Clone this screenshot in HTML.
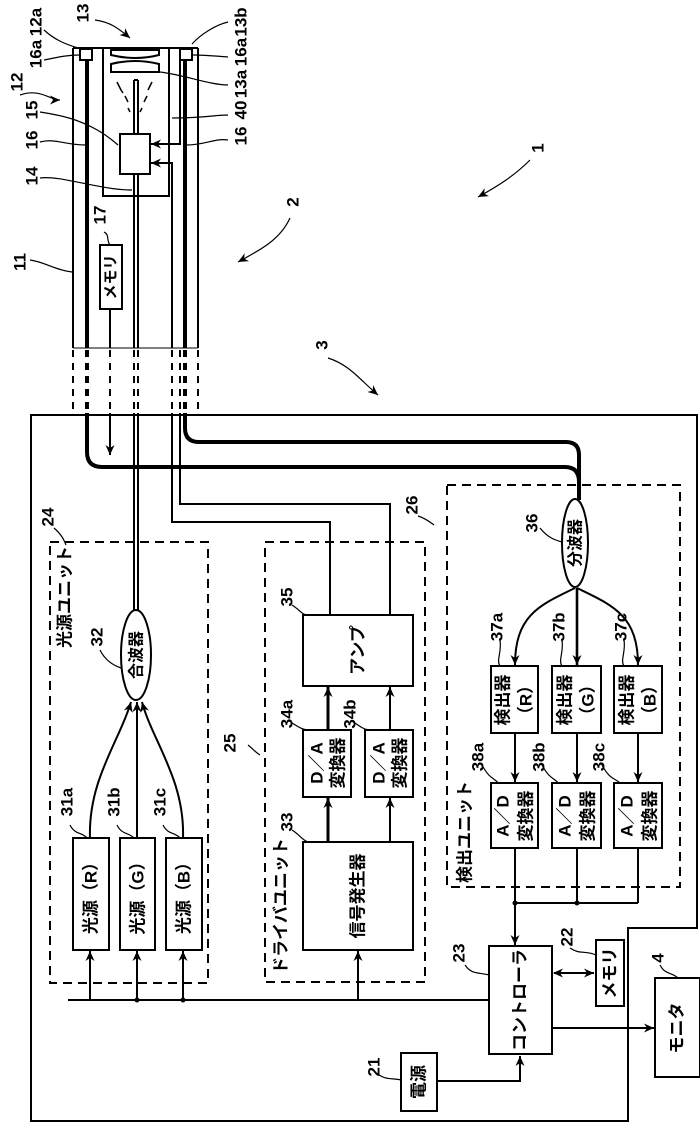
<!DOCTYPE html>
<html><head><meta charset="utf-8"><style>
html,body{margin:0;padding:0;background:#fff;}
svg{display:block;}
text{font-family:"Liberation Sans","Noto Sans CJK JP",sans-serif;fill:#000;}
</style></head><body>
<svg width="700" height="1134" viewBox="0 0 700 1134" xmlns="http://www.w3.org/2000/svg">
<defs>
<marker id="ar" markerWidth="11" markerHeight="11" refX="10" refY="5.5" orient="auto" markerUnits="userSpaceOnUse">
<path d="M0,1 L10,5.5 L0,10 L3,5.5 Z" fill="#000"/></marker>
<marker id="arS" markerWidth="11" markerHeight="11" refX="1" refY="5.5" orient="auto" markerUnits="userSpaceOnUse">
<path d="M10,1 L0,5.5 L10,10 L7,5.5 Z" fill="#000"/></marker>
</defs>
<g fill="none" stroke="#000" stroke-width="2">
<!-- probe -->
<line x1="73" y1="48" x2="73" y2="348"/>
<line x1="198" y1="48" x2="198" y2="348"/>
<line x1="73" y1="48" x2="198" y2="48"/>
<line x1="73" y1="348" x2="198" y2="348" stroke-width="1"/>
<rect x="80" y="49" width="12" height="11"/>
<rect x="180" y="49" width="12" height="11"/>
<line x1="87" y1="60" x2="87" y2="348" stroke-width="4"/>
<line x1="185" y1="60" x2="185" y2="348" stroke-width="4"/>
<rect x="103" y="48" width="66" height="148"/>
<path d="M111,50 h48 v5 q-24,6 -48,0 z"/>
<path d="M111,64 q24,-6 48,0 v8 h-48 z"/>
<line x1="134" y1="80" x2="134" y2="134"/><line x1="138" y1="80" x2="138" y2="134"/>
<line x1="134" y1="80" x2="138" y2="80"/>
<line x1="134" y1="174" x2="134" y2="348"/><line x1="138" y1="174" x2="138" y2="348"/>
<path d="M117,82 l4,8 M121,90 l2,3 M152,82 l-4,8 M125,96 l3,6 M147,96 l-3,6 M128,108 l2,4 M142,108 l-2,4" stroke-width="1.5"/>
<rect x="120" y="134" width="30" height="40" fill="#fff"/>
<path d="M180,60 V144 H151" marker-end="url(#ar)"/>
<path d="M172,348 V163 H151" marker-end="url(#ar)"/>
<rect x="100" y="245" width="22" height="64"/>
<line x1="110" y1="309" x2="110" y2="348"/>
<!-- dashed extension -->
<g stroke-dasharray="7,6">
<line x1="73" y1="350" x2="73" y2="413"/><line x1="198" y1="350" x2="198" y2="413"/>
<line x1="87" y1="350" x2="87" y2="413" stroke-width="4"/><line x1="185" y1="350" x2="185" y2="413" stroke-width="4"/>
<line x1="110" y1="350" x2="110" y2="413"/>
<line x1="134" y1="350" x2="134" y2="413"/><line x1="138" y1="350" x2="138" y2="413"/>
<line x1="172" y1="350" x2="172" y2="413"/><line x1="180" y1="350" x2="180" y2="413"/>
</g>
<!-- main housing -->
<path d="M31,415 H697 V928 H628 V1121 H31 Z"/>
<!-- thick fibers -->
<path d="M87,413 V452 Q87,467 102,467 H565 Q579,467 579,482 V500" stroke-width="4"/>
<path d="M185,413 V428 Q185,442 199,442 H566 Q579,442 579,455 V500" stroke-width="4"/>
<line x1="110" y1="413" x2="110" y2="455" marker-end="url(#ar)"/>
<line x1="134" y1="413" x2="134" y2="640"/><line x1="138" y1="413" x2="138" y2="640"/>
<path d="M180,413 V504 H390 V615"/>
<path d="M172,413 V522 H330 V615"/>
<!-- light source unit -->
<rect x="50" y="542" width="158" height="441" stroke-dasharray="9,6"/>
<ellipse cx="136" cy="655" rx="15" ry="45" fill="#fff"/>
<rect x="73" y="838" width="36" height="112"/>
<rect x="120" y="838" width="35" height="112"/>
<rect x="166" y="838" width="36" height="112"/>
<path d="M90,838 C88,780 120,740 131,702" marker-end="url(#ar)"/>
<line x1="137" y1="838" x2="137" y2="702" marker-end="url(#ar)"/>
<path d="M183,838 C185,780 152,740 142,702" marker-end="url(#ar)"/>
<!-- drive unit -->
<rect x="265" y="542" width="160" height="440" stroke-dasharray="9,6"/>
<rect x="303" y="615" width="110" height="71"/>
<rect x="303" y="730" width="48" height="67"/>
<rect x="365" y="730" width="48" height="67"/>
<rect x="303" y="842" width="110" height="108"/>
<line x1="328" y1="842" x2="328" y2="798" stroke-width="3" marker-end="url(#ar)"/>
<line x1="390" y1="842" x2="390" y2="798" marker-end="url(#ar)"/>
<line x1="328" y1="730" x2="328" y2="687" stroke-width="3" marker-end="url(#ar)"/>
<line x1="390" y1="730" x2="390" y2="687" marker-end="url(#ar)"/>
<!-- detection unit -->
<rect x="447" y="485" width="233" height="402" stroke-dasharray="9,6"/>
<ellipse cx="575" cy="543" rx="13" ry="44" fill="#fff"/>
<rect x="491" y="666" width="47" height="67"/>
<rect x="552" y="666" width="49" height="67"/>
<rect x="614" y="666" width="48" height="67"/>
<rect x="491" y="783" width="47" height="65"/>
<rect x="552" y="783" width="49" height="65"/>
<rect x="614" y="783" width="48" height="65"/>
<path d="M575,588 C540,605 515,615 515,665" marker-end="url(#ar)"/>
<line x1="577" y1="588" x2="577" y2="665" stroke-width="2.6" marker-end="url(#ar)"/>
<path d="M577,588 C612,605 638,615 638,665" marker-end="url(#ar)"/>
<line x1="515" y1="733" x2="515" y2="782" marker-end="url(#ar)"/>
<line x1="577" y1="733" x2="577" y2="782" marker-end="url(#ar)"/>
<line x1="638" y1="733" x2="638" y2="782" marker-end="url(#ar)"/>
<line x1="515" y1="848" x2="515" y2="945" marker-end="url(#ar)"/>
<line x1="577" y1="848" x2="577" y2="903"/>
<line x1="638" y1="848" x2="638" y2="903"/>
<line x1="515" y1="903" x2="638" y2="903"/>
<!-- controller area -->
<rect x="489" y="946" width="63" height="108"/>
<rect x="596" y="940" width="28" height="66"/>
<rect x="655" y="978" width="45" height="99"/>
<rect x="401" y="1053" width="36" height="58"/>
<line x1="554" y1="973" x2="594" y2="973" marker-start="url(#arS)" marker-end="url(#ar)"/>
<line x1="552" y1="1028" x2="654" y2="1028" marker-end="url(#ar)"/>
<path d="M437,1081 H520 V1056" marker-end="url(#ar)"/>
<line x1="68" y1="1000" x2="489" y2="1000"/>
<line x1="90" y1="1000" x2="90" y2="951" marker-end="url(#ar)"/>
<line x1="137" y1="1000" x2="137" y2="951" marker-end="url(#ar)"/>
<line x1="183" y1="1000" x2="183" y2="951" marker-end="url(#ar)"/>
<line x1="358" y1="1000" x2="358" y2="951" marker-end="url(#ar)"/>
<!-- leaders and pointer arrows -->
<g stroke-width="1.2">
<path d="M20,95 C40,88 50,100 60,100" marker-end="url(#ar)"/>
<path d="M95,20 C110,22 118,28 130,38" marker-end="url(#ar)"/>
<path d="M290,218 C280,240 260,250 238,262" marker-end="url(#ar)"/>
<path d="M530,160 C515,175 500,185 478,197" marker-end="url(#ar)"/>
<path d="M328,358 C350,365 360,380 378,395" marker-end="url(#ar)"/>
<path d="M44,60 C55,58 65,55 80,55"/><path d="M44,30 C55,40 65,44 78,48"/>
<path d="M40,112 C60,115 90,120 118,145"/><path d="M40,142 C55,138 65,145 85,145"/>
<path d="M40,178 C60,175 100,190 132,190"/><path d="M30,260 C45,262 55,270 72,272"/>
<path d="M104,232 C110,235 106,240 110,245"/>
<path d="M228,22 C215,25 200,35 192,44"/><path d="M228,57 C215,56 205,55 193,55"/>
<path d="M228,85 C210,85 185,75 160,72"/><path d="M228,115 C215,115 205,118 172,118"/>
<path d="M228,140 C215,138 205,145 187,145"/>
<path d="M54,528 C62,535 64,540 66,545"/>
<path d="M100,650 C105,660 112,665 121,668"/>
<path d="M70,825 C75,835 82,832 87,838"/><path d="M117,825 C122,835 128,832 134,838"/><path d="M163,825 C168,835 175,832 180,838"/>
<path d="M292,605 C300,610 302,615 308,615"/><path d="M292,723 C300,728 303,730 310,730"/>
<path d="M355,723 C362,728 365,730 372,730"/><path d="M292,830 C300,835 302,840 308,842"/>
<path d="M248,745 C252,748 255,752 260,755"/>
<path d="M418,516 C425,518 430,522 434,525"/>
<path d="M540,528 C548,538 555,540 562,542"/>
<path d="M500,640 C502,652 496,660 500,666"/><path d="M562,640 C564,652 558,660 562,666"/><path d="M624,640 C626,652 620,660 624,666"/>
<path d="M482,765 C490,780 495,778 498,783"/><path d="M542,765 C550,780 555,778 558,783"/><path d="M602,765 C610,780 615,778 620,783"/>
<path d="M465,965 C472,975 478,972 489,975"/><path d="M570,948 C580,955 585,950 596,955"/>
<path d="M660,965 C665,975 672,972 678,978"/><path d="M378,1074 C385,1080 392,1078 401,1080"/>
</g>
</g>
<g fill="#000" stroke="none">
<circle cx="137" cy="1000" r="2.5"/><circle cx="183" cy="1000" r="2.5"/>
<circle cx="515" cy="903" r="2.5"/><circle cx="577" cy="903" r="2.5"/>
</g>
<g font-size="17" font-weight="bold" text-anchor="middle" dominant-baseline="central">
<text transform="translate(17,82) rotate(-90)">12</text>
<text transform="translate(36,22) rotate(-90)">12a</text>
<text transform="translate(36,54) rotate(-90)">16a</text>
<text transform="translate(83,13) rotate(-90)">13</text>
<text transform="translate(32,110) rotate(-90)">15</text>
<text transform="translate(32,140) rotate(-90)">16</text>
<text transform="translate(32,176) rotate(-90)">14</text>
<text transform="translate(20,262) rotate(-90)">11</text>
<text transform="translate(100,215) rotate(-90)">17</text>
<text transform="translate(241,22) rotate(-90)">13b</text>
<text transform="translate(241,52) rotate(-90)">16a</text>
<text transform="translate(241,84) rotate(-90)">13a</text>
<text transform="translate(241,110) rotate(-90)">40</text>
<text transform="translate(241,136) rotate(-90)">16</text>
<text transform="translate(293,202) rotate(-90)">2</text>
<text transform="translate(538,148) rotate(-90)">1</text>
<text transform="translate(322,345) rotate(-90)">3</text>
<text transform="translate(48,517) rotate(-90)">24</text>
<text transform="translate(230,743) rotate(-90)">25</text>
<text transform="translate(412,505) rotate(-90)">26</text>
<text transform="translate(97,637) rotate(-90)">32</text>
<text transform="translate(67,802) rotate(-90)">31a</text>
<text transform="translate(114,802) rotate(-90)">31b</text>
<text transform="translate(160,802) rotate(-90)">31c</text>
<text transform="translate(287,597) rotate(-90)">35</text>
<text transform="translate(287,714) rotate(-90)">34a</text>
<text transform="translate(350,714) rotate(-90)">34b</text>
<text transform="translate(287,822) rotate(-90)">33</text>
<text transform="translate(532,523) rotate(-90)">36</text>
<text transform="translate(497,627) rotate(-90)">37a</text>
<text transform="translate(559,627) rotate(-90)">37b</text>
<text transform="translate(621,627) rotate(-90)">37c</text>
<text transform="translate(478,757) rotate(-90)">38a</text>
<text transform="translate(539,757) rotate(-90)">38b</text>
<text transform="translate(599,757) rotate(-90)">38c</text>
<text transform="translate(459,953) rotate(-90)">23</text>
<text transform="translate(567,937) rotate(-90)">22</text>
<text transform="translate(658,958) rotate(-90)">4</text>
<text transform="translate(374,1067) rotate(-90)">21</text>
</g>
<g font-size="17" font-weight="bold" text-anchor="middle" dominant-baseline="central">
<text transform="translate(111,277) rotate(-90)" font-size="15">メモリ</text>
<text transform="translate(65,597) rotate(-90)">光源ユニット</text>
<text transform="translate(137,655) rotate(-90)" font-size="16">合波器</text>
<text transform="translate(91,894) rotate(-90)">光源（R）</text>
<text transform="translate(138,894) rotate(-90)">光源（G）</text>
<text transform="translate(184,894) rotate(-90)">光源（B）</text>
<text transform="translate(358,650) rotate(-90)">アンプ</text>
<text transform="translate(317,763) rotate(-90)">D／A</text>
<text transform="translate(338,763) rotate(-90)">変換器</text>
<text transform="translate(379,763) rotate(-90)">D／A</text>
<text transform="translate(400,763) rotate(-90)">変換器</text>
<text transform="translate(358,896) rotate(-90)">信号発生器</text>
<text transform="translate(281,906) rotate(-90)">ドライバユニット</text>
<text transform="translate(576,543) rotate(-90)" font-size="16">分波器</text>
<text transform="translate(503,700) rotate(-90)">検出器</text>
<text transform="translate(526,700) rotate(-90)">（R）</text>
<text transform="translate(565,700) rotate(-90)">検出器</text>
<text transform="translate(588,700) rotate(-90)">（G）</text>
<text transform="translate(627,700) rotate(-90)">検出器</text>
<text transform="translate(650,700) rotate(-90)">（B）</text>
<text transform="translate(503,816) rotate(-90)">A／D</text>
<text transform="translate(526,816) rotate(-90)">変換器</text>
<text transform="translate(565,816) rotate(-90)">A／D</text>
<text transform="translate(588,816) rotate(-90)">変換器</text>
<text transform="translate(627,816) rotate(-90)">A／D</text>
<text transform="translate(650,816) rotate(-90)">変換器</text>
<text transform="translate(465,832) rotate(-90)">検出ユニット</text>
<text transform="translate(520,1000) rotate(-90)">コントローラ</text>
<text transform="translate(610,973) rotate(-90)">メモリ</text>
<text transform="translate(677,1028) rotate(-90)">モニタ</text>
<text transform="translate(419,1082) rotate(-90)">電源</text>
</g>
</svg>
</body></html>
